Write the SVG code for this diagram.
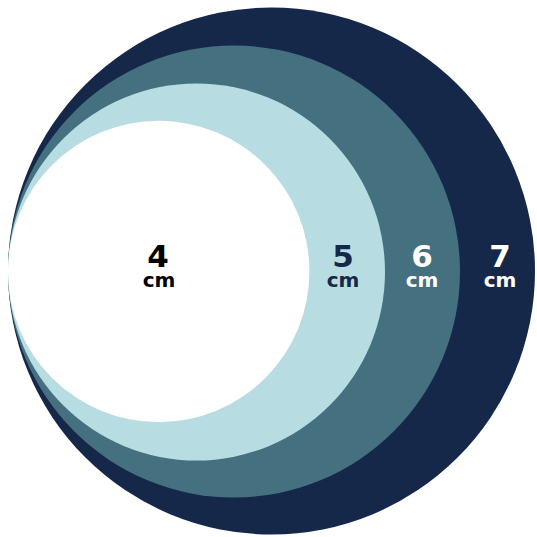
<svg xmlns="http://www.w3.org/2000/svg" width="537" height="537" viewBox="0 0 537 537">
<style>
.n{font-family:"DejaVu Sans","Noto Sans",sans-serif;font-weight:700;font-size:31px;text-anchor:middle}
.u{font-family:"DejaVu Sans","Noto Sans",sans-serif;font-weight:700;font-size:20px;text-anchor:middle}
</style>
<rect width="537" height="537" fill="#ffffff"/>
<g id="c7"><circle cx="271.5" cy="271" r="263.5" fill="#16284a"/></g>
<g id="c6"><circle cx="234" cy="271.5" r="226" fill="#44707f"/></g>
<g id="c5"><circle cx="196.5" cy="272" r="188.5" fill="#b7dde2"/></g>
<g id="c4"><circle cx="158.7" cy="271.5" r="150.7" fill="#ffffff"/></g>
<g id="labels">
<text class="n" x="158" y="267" fill="#000000">4</text>
<text class="u" x="159" y="287" fill="#000000">cm</text>
<text class="n" x="343" y="267" fill="#16284a">5</text>
<text class="u" x="343" y="287" fill="#16284a">cm</text>
<text class="n" x="422" y="267" fill="#ffffff">6</text>
<text class="u" x="422" y="287" fill="#ffffff">cm</text>
<text class="n" x="500" y="267" fill="#ffffff">7</text>
<text class="u" x="500" y="287" fill="#ffffff">cm</text>
</g>
</svg>
